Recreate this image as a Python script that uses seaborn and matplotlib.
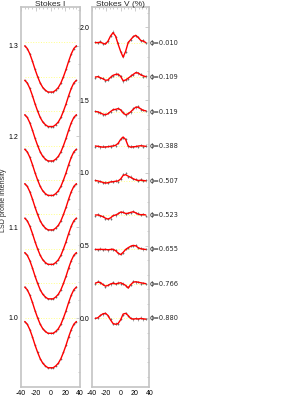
import matplotlib
matplotlib.use("Agg")
from matplotlib import pyplot as plt
from matplotlib.ticker import MultipleLocator
import pandas as pd
import seaborn as sns

# velocity grid (km/s)
velocity = [-35, -31.5, -28, -24.5, -21, -17.5, -14, -10.5, -7, -3.5, 0,
            3.5, 7, 10.5, 14, 17.5, 21, 24.5, 28, 31.5, 35]

phases = ["0.010", "0.109", "0.119", "0.388", "0.507", "0.523", "0.655", "0.766", "0.880"]

# continuum levels of the stacked profiles
i_levels = [1.304, 1.266, 1.228, 1.190, 1.152, 1.114, 1.076, 1.038, 1.000]
v_levels = [1.896, 1.659, 1.422, 1.185, 0.948, 0.711, 0.474, 0.237, 0.0]

# Stokes I profile (relative to continuum)
stokes_i = [0.996, 0.993, 0.987, 0.979, 0.970, 0.962, 0.955, 0.950, 0.947, 0.945, 0.945,
            0.945, 0.947, 0.950, 0.955, 0.962, 0.970, 0.979, 0.987, 0.993, 0.996]

# Stokes V model profiles (%)
stokes_v = [
    [0.0, 0.0, 0.003, -0.005, -0.01, 0.01, 0.045, 0.068, 0.045, -0.01, -0.06,
     -0.10, -0.06, 0.0, 0.02, 0.04, 0.05, 0.035, 0.015, 0.01, 0.0],
    [0.0, 0.003, -0.005, -0.012, -0.022, -0.02, -0.002, 0.012, 0.018, 0.02, 0.005,
     -0.025, -0.02, -0.008, 0.005, 0.018, 0.03, 0.028, 0.015, 0.008, 0.003],
    [0.0, -0.002, -0.01, -0.018, -0.022, -0.015, 0.0, 0.012, 0.015, 0.02, 0.012,
     -0.01, -0.022, -0.015, -0.002, 0.015, 0.03, 0.03, 0.018, 0.008, 0.005],
    [0.0, -0.002, -0.005, -0.008, -0.006, -0.005, -0.002, 0.0, 0.005, 0.018, 0.045,
     0.062, 0.045, 0.0, -0.008, -0.005, -0.004, 0.0, 0.002, 0.0, -0.002],
    [0.0, -0.003, -0.008, -0.013, -0.018, -0.015, -0.01, -0.008, -0.005, -0.003, 0.01,
     0.035, 0.04, 0.03, 0.022, 0.012, 0.005, 0.0, 0.002, 0.0, -0.002],
    [0.0, 0.0, -0.005, -0.012, -0.022, -0.028, -0.02, -0.005, 0.0, 0.008, 0.02,
     0.018, 0.01, 0.012, 0.018, 0.022, 0.015, 0.005, 0.002, 0.003, 0.0],
    [0.0, 0.0, 0.001, 0.0, 0.0, -0.002, 0.0, 0.002, -0.008, -0.025, -0.035,
     -0.02, 0.0, 0.012, 0.022, 0.028, 0.025, 0.012, 0.005, 0.002, 0.0],
    [0.005, 0.012, 0.01, -0.005, -0.015, -0.01, 0.0, 0.005, 0.0, 0.005, 0.008,
     0.0, -0.01, -0.028, -0.005, 0.012, 0.015, 0.012, 0.008, 0.005, 0.002],
    [0.0, 0.005, 0.02, 0.032, 0.035, 0.02, -0.01, -0.035, -0.04, -0.035, -0.01,
     0.03, 0.035, 0.02, 0.0, -0.005, -0.002, -0.004, 0.0, -0.003, -0.005],
]

# observed minus model for Stokes V (%)
v_resid = [
    [0.004, -0.003, 0.005, -0.004, 0.006, -0.002, 0.003, 0.008, -0.005, 0.004, -0.006,
     0.005, -0.003, 0.006, -0.004, 0.003, -0.005, 0.004, -0.002, 0.005, -0.004],
    [-0.003, 0.005, -0.002, 0.004, -0.006, 0.003, 0.005, -0.004, 0.006, -0.003, 0.004,
     -0.005, 0.003, -0.002, 0.006, -0.004, 0.005, -0.003, 0.004, -0.005, 0.002],
    [0.005, -0.004, 0.003, -0.005, 0.002, 0.006, -0.003, 0.004, -0.006, 0.005, -0.002,
     0.004, -0.005, 0.003, -0.004, 0.006, -0.002, 0.005, -0.004, 0.003, -0.003],
    [-0.004, 0.003, -0.005, 0.006, -0.003, 0.004, -0.002, 0.005, -0.004, 0.003, 0.006,
     -0.005, 0.004, -0.003, 0.005, -0.002, 0.004, -0.006, 0.003, -0.004, 0.005],
    [0.003, -0.005, 0.004, -0.002, 0.005, -0.004, 0.006, -0.003, 0.004, -0.005, 0.003,
     0.012, 0.010, -0.004, 0.005, -0.003, 0.004, -0.002, 0.005, -0.004, 0.003],
    [-0.005, 0.004, -0.003, 0.005, -0.004, 0.002, -0.005, 0.006, -0.003, 0.004, -0.002,
     0.005, -0.004, 0.003, -0.005, 0.004, -0.003, 0.006, -0.002, 0.004, -0.005],
    [0.004, -0.002, 0.005, -0.003, 0.004, -0.005, 0.003, -0.004, 0.006, -0.002, 0.004,
     -0.003, 0.005, -0.004, 0.002, -0.005, 0.004, -0.003, 0.005, -0.002, 0.004],
    [-0.002, 0.006, -0.004, 0.003, -0.005, 0.004, -0.003, 0.005, -0.002, 0.004, -0.005,
     0.003, -0.004, 0.006, -0.003, 0.005, -0.004, 0.002, -0.005, 0.003, -0.004],
    [0.005, -0.003, 0.004, -0.005, 0.003, -0.004, 0.006, -0.002, 0.005, -0.003, 0.004,
     -0.005, 0.003, -0.004, 0.005, -0.002, 0.004, -0.003, 0.006, -0.004, 0.003],
]

sns.set_style("white")
plt.rcParams["font.family"] = ["Liberation Sans", "DejaVu Sans"]
plt.rcParams["axes.unicode_minus"] = False

frame = "#c4c4c4"
fig = plt.figure(figsize=(3, 4), dpi=100)
ax_i = fig.add_axes([0.070, 0.033, 0.197, 0.950])
ax_v = fig.add_axes([0.306, 0.033, 0.192, 0.950])

rows = []
for k, ph in enumerate(phases):
    for j, vel in enumerate(velocity):
        rows.append({
            "phase": ph, "vel": vel,
            "i": stokes_i[j] + i_levels[k] - 1.0,
            "v": stokes_v[k][j] + v_levels[k],
            "v_obs": stokes_v[k][j] + v_resid[k][j] + v_levels[k],
        })
df = pd.DataFrame(rows)

for k, ph in enumerate(phases):
    sub = df[df["phase"] == ph]
    # continuum / zero level
    ax_i.plot([velocity[0], velocity[-1]], [i_levels[k]] * 2, color="#ffff88",
              ls=":", lw=0.7, zorder=1)
    ax_v.plot([velocity[0], velocity[-1]], [v_levels[k]] * 2, color="#ffff88",
              ls=":", lw=0.7, zorder=1)

    ax_i.errorbar(sub["vel"], sub["i"], yerr=0.0006, fmt="none", ecolor="#808080",
                  elinewidth=0.4, zorder=2)
    sns.scatterplot(data=sub, x="vel", y="i", ax=ax_i, color="#707070", s=1.5,
                    linewidth=0, zorder=2, legend=False)
    sns.lineplot(data=sub, x="vel", y="i", ax=ax_i, color="red", lw=1.0,
                 zorder=3, legend=False)

    ax_v.errorbar(sub["vel"], sub["v_obs"], yerr=0.008, fmt="none", ecolor="#808080",
                  elinewidth=0.4, zorder=2)
    sns.scatterplot(data=sub, x="vel", y="v_obs", ax=ax_v, color="#707070", s=1.5,
                    linewidth=0, zorder=2, legend=False)
    sns.lineplot(data=sub, x="vel", y="v", ax=ax_v, color="red", lw=1.0,
                 zorder=3, legend=False)

    ax_v.text(1.01, v_levels[k], "ϕ=" + ph, transform=ax_v.get_yaxis_transform(),
              fontsize=4.8, va="center", ha="left", clip_on=False,
              family=["DejaVu Sans"])

ax_i.set_ylim(0.924, 1.343)
ax_i.set_yticks([1.0, 1.1, 1.2, 1.3])
ax_i.yaxis.set_minor_locator(MultipleLocator(0.02))
ax_v.set_ylim(-0.47, 2.142)
ax_v.set_yticks([0.0, 0.5, 1.0, 1.5, 2.0])
ax_v.yaxis.set_minor_locator(MultipleLocator(0.1))

for ax in (ax_i, ax_v):
    ax.set_xlim(-40, 40)
    ax.set_xticks([-40, -20, 0, 20, 40])
    ax.xaxis.set_minor_locator(MultipleLocator(5))
    ax.set_xlabel("")
    ax.set_ylabel("")
    ax.yaxis.set_major_formatter(plt.FormatStrFormatter("%.1f"))
    for sp in ax.spines.values():
        sp.set_color(frame)
        sp.set_linewidth(1.2)
    ax.tick_params(which="both", direction="in", top=True, right=True,
                   color="#b8b8b8", labelcolor="black", labelsize=5, pad=2)
    ax.tick_params(which="major", length=3, width=0.5)
    ax.tick_params(which="minor", length=1.5, width=0.5)

ax_i.set_title("Stokes I", fontsize=6, pad=0.6)
ax_v.set_title("Stokes V (%)", fontsize=6, pad=0.6)
fig.text(0.012, 0.5, "LSD profile intensity", rotation=90, fontsize=5,
         ha="center", va="center")

fig.savefig("out.png", dpi=100)
